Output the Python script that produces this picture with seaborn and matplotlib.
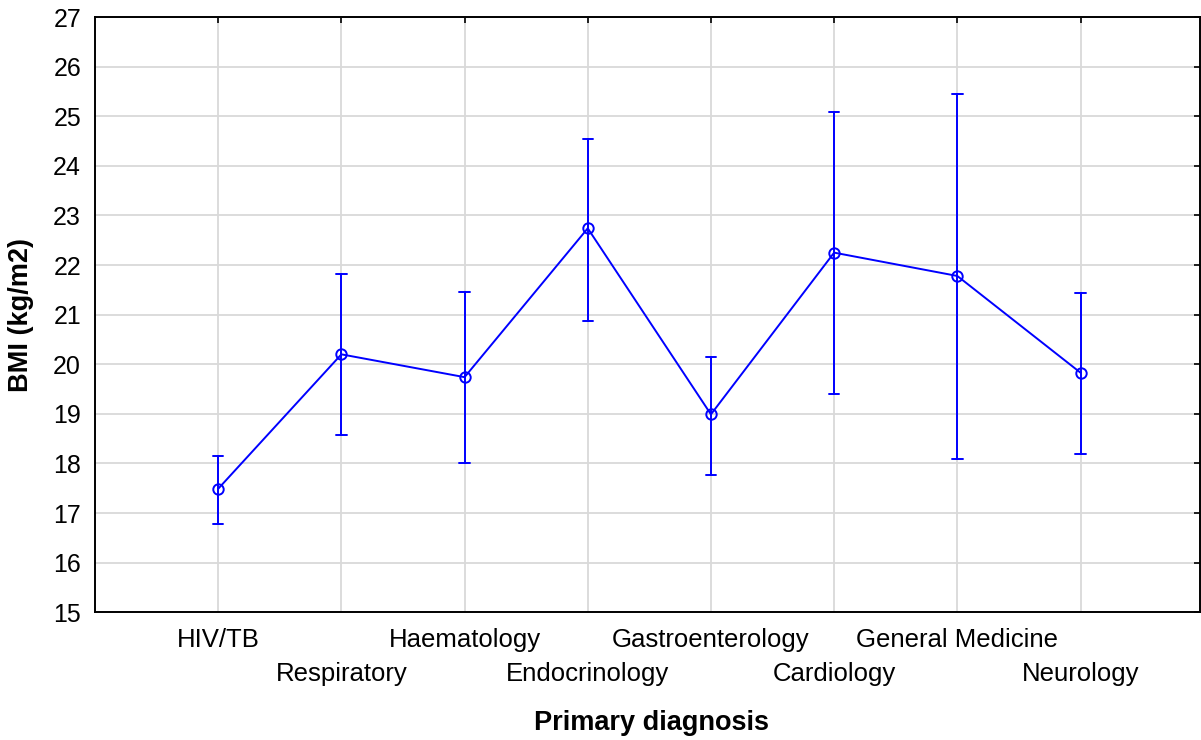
import numpy as np
import pandas as pd
import matplotlib
matplotlib.use("Agg")
import matplotlib.pyplot as plt
import seaborn as sns

categories = ["HIV/TB", "Respiratory", "Haematology", "Endocrinology",
              "Gastroenterology", "Cardiology", "General Medicine", "Neurology"]
bmi_mean = [17.49, 20.20, 19.74, 22.74, 18.99, 22.25, 21.78, 19.83]
bmi_lower = [16.79, 18.58, 18.01, 20.88, 17.76, 19.40, 18.10, 18.20]
bmi_upper = [18.15, 21.81, 21.45, 24.54, 20.14, 25.08, 25.45, 21.43]
y_ticks = list(range(15, 28))

sns.set_style("white")
plt.rcParams['font.family'] = ['Liberation Sans', 'DejaVu Sans']
plt.rcParams.update({"text.color": "black", "axes.labelcolor": "black",
                     "xtick.color": "black", "ytick.color": "black"})

# long table: lower / mean / upper per category -> median = mean, 100% interval = bounds
rows = []
for c, lo, m, hi in zip(categories, bmi_lower, bmi_mean, bmi_upper):
    for v in (lo, m, hi):
        rows.append({"diag": c, "bmi": v})
df = pd.DataFrame(rows)

fig = plt.figure(figsize=(12.01, 7.40), dpi=100)
ax = fig.add_axes([95/1201, (740-612.3)/740, (1200-95)/1201, (612.3-17)/740])

sns.pointplot(data=df, x="diag", y="bmi", order=categories,
              estimator="median", errorbar=("pi", 100),
              color="#0000ff", markers="o", linestyles="-",
              capsize=0.085, markerfacecolor="none", markersize=7.5,
              markeredgewidth=1.4, linewidth=1.4,
              err_kws={"linewidth": 1.4}, ax=ax, zorder=3)

ax.set_xlim(-1, 7.97)
ax.set_ylim(15, 27)
ax.set_yticks(y_ticks)
ax.set_yticklabels([str(t) for t in y_ticks])

ax.set_xticks(range(len(categories)))
ax.set_xticklabels(categories)

ax.grid(True, color="#d9d9d9", linewidth=1.3, zorder=0)
ax.set_axisbelow(True)

for s in ax.spines.values():
    s.set_visible(True)
    s.set_color("black")
    s.set_linewidth(1.4)

ax.tick_params(axis="both", direction="in", length=4, width=1.2, color="black",
               top=True, right=True)
ax.tick_params(axis="y", labelsize=18, pad=10)
ax.tick_params(axis="x", labelsize=18.5, pad=11)

# alternate tick labels on two rows
for i, tick in enumerate(ax.xaxis.get_major_ticks()):
    if i % 2 == 1:
        tick.set_pad(36)

ax.set_xlabel("Primary diagnosis", fontsize=19.5, fontweight="bold")
ax.set_ylabel("BMI (kg/m2)", fontsize=19.5, fontweight="bold")
ax.xaxis.set_label_coords(0.5036, -0.164)
ax.yaxis.set_label_coords(-0.0552, 0.5)

fig.savefig("out.png", dpi=100)
